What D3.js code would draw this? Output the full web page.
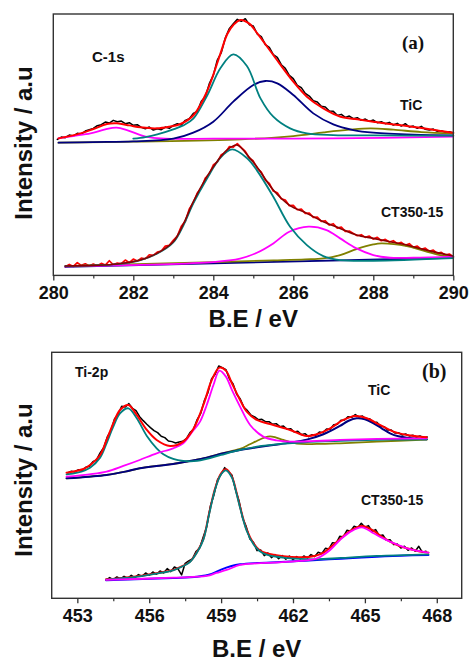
<!DOCTYPE html>
<html>
<head>
<meta charset="utf-8">
<script src="https://cdn.jsdelivr.net/npm/d3@7"></script>
<style>
  body { margin: 0; background: #fff; }
  svg { display: block; }
  .lbl { font-family: 'Liberation Sans', Arial, sans-serif; font-weight: bold; fill: #111; }
  .tag { font-family: 'Liberation Serif', 'Times New Roman', serif; font-weight: bold; fill: #111; }
</style>
</head>
<body>
<svg id="chart" width="469" height="663"></svg>
<script>
// ---- C-1s, TiC (raw counts on a 0.1 eV grid from 280.1 eV) ----
const c1sTicRawStart = 280.1
const c1sTicRaw = [
  408, 415, 413, 421, 418, 426, 424, 433, 437, 441,
  449, 452, 460, 457, 465, 461, 463, 455, 458, 450,
  452, 444, 440, 445, 436, 440, 437, 445, 441, 450,
  455, 451, 465, 470, 486, 492, 522, 536, 575, 600,
  646, 668, 712, 740, 755, 768, 762, 770, 752, 748,
  724, 716, 692, 684, 662, 654, 632, 621, 600, 590,
  570, 563, 546, 538, 524, 520, 507, 505, 493, 492,
  480, 483, 474, 478, 470, 473, 465, 469, 462, 466,
  458, 461, 455, 459, 451, 456, 448, 455, 445, 448,
  441, 447, 438, 436, 439, 432, 434, 429, 431, 427
]
const c1sTicFit = [[280.13, 411], [280.68, 426], [281.0, 439], [281.34, 454], [281.59, 456], [281.9, 450], [282.18, 444], [282.59, 441], [282.9, 446], [283.18, 454], [283.51, 481], [283.84, 551], [284.18, 666], [284.35, 724], [284.5, 751], [284.68, 766], [284.9, 755], [285.1, 726], [285.5, 661], [286.0, 581], [286.34, 536], [286.75, 501], [287.18, 476], [287.6, 468], [288.0, 461], [288.42, 454], [288.84, 448], [289.25, 441], [289.68, 433], [290.0, 428]]
const c1sTicTeal = [[282.0, 410], [282.3, 415], [282.6, 423], [283.0, 438], [283.25, 450], [283.5, 470], [283.84, 538], [284.18, 622], [284.5, 663], [284.84, 628], [285.18, 531], [285.5, 476], [285.92, 441], [286.34, 426], [287.0, 421], [288.0, 420], [290.0, 419]]
const c1sTicNavy = [[280.13, 398], [281.0, 400], [282.0, 402], [283.0, 410], [283.5, 428], [284.0, 461], [284.5, 521], [285.0, 571], [285.3, 583], [285.6, 576], [286.0, 541], [286.5, 486], [287.0, 453], [287.5, 436], [288.0, 428], [289.0, 422], [290.0, 420]]
const c1sTicMagenta = [[280.13, 411], [280.5, 418], [280.93, 426], [281.3, 438], [281.58, 443], [281.84, 436], [282.18, 421], [282.42, 414], [282.8, 410], [284.0, 410], [287.0, 411], [290.0, 416]]
const c1sTicOlive = [[280.13, 398], [282.0, 401], [284.7, 408], [286.0, 418], [286.76, 429], [287.4, 437], [287.93, 441], [288.5, 437], [289.2, 430], [290.0, 426]]

// ---- C-1s, CT350-15 (raw counts on a 0.1 eV grid from 280.3 eV) ----
const c1sCtRawStart = 280.3
const c1sCtRaw = [
  26, 33, 27, 38, 30, 35, 28, 34, 29, 36,
  31, 44, 32, 37, 35, 46, 38, 49, 43, 52,
  50, 62, 60, 70, 73, 88, 90, 105, 118, 147,
  162, 199, 218, 247, 262, 292, 304, 331, 340, 362,
  368, 386, 385, 395, 383, 372, 352, 343, 321, 310,
  286, 276, 253, 248, 230, 226, 209, 210, 197, 199,
  186, 187, 174, 175, 162, 164, 151, 155, 142, 145,
  132, 133, 126, 119, 122, 114, 118, 109, 114, 104,
  108, 100, 104, 95, 99, 90, 95, 84, 88, 78,
  82, 72, 76, 66, 69, 61, 64, 56
]
const c1sCtFit = [[280.3, 28], [281.0, 30], [281.6, 34], [282.18, 46], [282.59, 66], [283.0, 101], [283.26, 156], [283.5, 221], [283.84, 296], [284.09, 341], [284.34, 376], [284.59, 391], [284.92, 351], [285.09, 326], [285.5, 256], [285.9, 211], [286.34, 186], [286.75, 161], [287.17, 141], [287.58, 121], [288.0, 111], [288.42, 101], [288.84, 91], [289.25, 78], [289.99, 58]]
const c1sCtTeal = [[280.3, 28], [281.0, 30], [281.6, 34], [282.18, 46], [282.59, 65], [283.0, 99], [283.26, 152], [283.5, 216], [283.84, 290], [284.17, 352], [284.47, 378], [284.84, 352], [285.09, 315], [285.5, 236], [285.92, 146], [286.34, 91], [286.75, 58], [287.17, 46], [288.0, 44], [290.0, 52]]
const c1sCtMagenta = [[280.3, 27], [284.0, 40], [284.67, 50], [285.09, 68], [285.5, 96], [285.9, 131], [286.38, 146], [286.83, 136], [287.17, 111], [287.58, 81], [288.0, 61], [288.42, 53], [289.0, 53], [290.0, 56]]
const c1sCtOlive = [[280.3, 28], [284.0, 40], [285.5, 45], [286.3, 48], [286.75, 51], [287.17, 61], [287.58, 79], [288.0, 93], [288.2, 96], [288.84, 88], [289.25, 74], [289.67, 61], [290.0, 56]]
const c1sCtBase = [[280.3, 26], [290.0, 53]]

// ---- Ti-2p, TiC (raw counts on a 0.15 eV grid from 452.6 eV) ----
const ti2pTicRawStart = 452.6
const ti2pTicRaw = [
  376, 381, 379, 386, 383, 393, 396, 410, 415, 436,
  452, 484, 503, 538, 552, 576, 574, 584, 570, 563,
  545, 533, 522, 512, 503, 497, 486, 482, 472, 470,
  466, 469, 471, 479, 497, 507, 536, 555, 593, 617,
  658, 672, 697, 692, 686, 658, 643, 612, 598, 573,
  563, 549, 544, 536, 537, 530, 530, 522, 524, 515,
  517, 507, 509, 499, 501, 491, 494, 485, 491, 489,
  499, 497, 508, 507, 521, 522, 534, 535, 545, 543,
  551, 544, 547, 538, 539, 527, 528, 516, 515, 505,
  505, 496, 497, 490, 493, 487, 489, 484, 487, 482,
  484
]
const ti2pTicFit = [[452.55, 377], [453.25, 388], [453.53, 400], [453.95, 430], [454.22, 475], [454.5, 525], [454.78, 565], [455.13, 580], [455.48, 550], [455.9, 505], [456.31, 475], [456.87, 457], [457.42, 470], [457.84, 508], [458.26, 580], [458.61, 655], [458.93, 692], [459.2, 683], [459.45, 645], [459.79, 595], [460.07, 560], [460.49, 535], [461.18, 520], [461.88, 505], [462.57, 487], [462.99, 492], [463.55, 510], [464.1, 535], [464.59, 547], [465.08, 540], [465.63, 520], [466.19, 500], [466.75, 490], [467.58, 483]]
const ti2pTicTeal = [[452.55, 372], [453.0, 377], [453.53, 392], [453.95, 422], [454.22, 465], [454.5, 515], [454.78, 555], [455.13, 570], [455.48, 540], [455.9, 487], [456.31, 450], [456.59, 432], [457.0, 418], [457.42, 412], [458.0, 412], [458.4, 418], [459.0, 430], [459.79, 445], [460.5, 455], [461.5, 463], [462.5, 468], [464.0, 472], [466.0, 476], [467.58, 477]]
const ti2pTicNavy = [[452.55, 360], [453.5, 365], [454.22, 370], [455.0, 380], [455.6, 390], [456.3, 397], [457.0, 403], [457.7, 412], [458.4, 422], [459.1, 435], [459.79, 445], [460.5, 453], [461.18, 460], [461.88, 467], [462.57, 476], [463.27, 492], [463.96, 517], [464.3, 532], [464.66, 540], [465.0, 537], [465.36, 525], [465.7, 510], [466.05, 495], [466.4, 486], [466.75, 482], [467.58, 477]]
const ti2pTicMagenta = [[452.55, 365], [453.5, 372], [454.22, 380], [454.92, 397], [455.6, 415], [456.31, 435], [457.0, 450], [457.42, 465], [457.8, 500], [458.12, 530], [458.4, 580], [458.68, 640], [458.93, 683], [459.2, 665], [459.45, 625], [459.79, 575], [460.21, 520], [460.76, 485], [461.3, 474], [461.88, 470], [463.0, 472], [463.96, 475], [465.5, 478], [467.58, 480]]
const ti2pTicOlive = [[452.55, 360], [453.5, 365], [454.22, 370], [455.0, 380], [455.6, 390], [456.3, 397], [457.0, 403], [457.7, 412], [458.4, 422], [459.0, 434], [459.79, 448], [460.2, 462], [460.49, 472], [460.8, 482], [461.04, 486], [461.3, 482], [461.6, 475], [462.16, 464], [463.0, 463], [463.96, 465], [465.5, 470], [467.58, 476]]

// ---- Ti-2p, CT350-15 (raw counts on a 0.15 eV grid from 454.2 eV) ----
const ti2pCtRawStart = 454.2
const ti2pCtRaw = [
  55, 62, 56, 64, 58, 66, 60, 69, 62, 71,
  66, 76, 69, 79, 72, 82, 76, 89, 80, 94,
  88, 70, 105, 112, 118, 140, 150, 183, 215, 276,
  310, 356, 372, 392, 380, 370, 326, 292, 240, 215,
  178, 168, 143, 145, 128, 136, 122, 131, 119, 128,
  117, 127, 116, 125, 118, 127, 121, 131, 125, 138,
  134, 150, 148, 167, 165, 186, 184, 204, 201, 216,
  212, 225, 213, 218, 201, 206, 188, 190, 174, 176,
  161, 163, 151, 156, 144, 151, 141, 156, 138, 141
]
const ti2pCtFit = [[454.2, 57], [455.0, 62], [455.62, 67], [456.3, 75], [457.0, 85], [457.4, 97], [457.7, 110], [458.0, 140], [458.26, 178], [458.5, 255], [458.75, 330], [459.0, 375], [459.2, 387], [459.45, 365], [459.65, 315], [459.8, 272], [460.07, 205], [460.35, 165], [460.6, 145], [460.9, 135], [461.6, 126], [462.3, 123], [462.9, 127], [463.3, 138], [463.6, 155], [464.0, 180], [464.4, 203], [464.87, 217], [465.3, 205], [465.7, 185], [466.05, 170], [466.4, 158], [466.75, 150], [467.2, 142], [467.65, 137]]
const ti2pCtTeal = [[454.2, 56], [455.0, 61], [455.62, 66], [456.3, 74], [457.0, 84], [457.4, 96], [457.7, 109], [458.0, 138], [458.26, 176], [458.5, 252], [458.75, 327], [459.0, 372], [459.2, 384], [459.45, 362], [459.65, 312], [459.8, 269], [460.07, 202], [460.35, 162], [460.6, 142], [460.9, 131], [461.6, 122], [462.3, 118], [463.0, 117], [464.0, 121], [465.5, 127], [467.65, 132]]
const ti2pCtMagenta = [[454.2, 55], [457.0, 62], [458.4, 67], [458.8, 76], [459.23, 85], [459.79, 100], [460.5, 105], [461.18, 107], [462.3, 112], [463.0, 120], [463.55, 145], [463.96, 175], [464.4, 200], [464.87, 213], [465.36, 195], [465.7, 182], [466.05, 170], [466.4, 160], [466.75, 150], [467.2, 142], [467.65, 137]]
const ti2pCtBase = [[454.2, 54], [457.0, 61], [458.0, 65], [458.6, 73], [459.0, 86], [459.4, 96], [459.8, 102], [460.5, 106], [461.5, 109], [462.5, 113], [463.5, 117], [464.5, 121], [465.5, 125], [466.5, 128], [467.65, 130]]

// ---- axis ticks ----
const c1sMajor = [280, 282, 284, 286, 288, 290]
const c1sMinor = [281, 283, 285, 287, 289]
const ti2pMajor = [453, 456, 459, 462, 465, 468]
const ti2pMinor = [454.5, 457.5, 460.5, 463.5, 466.5]

const COLORS = {
  raw: '#000000',
  red: '#ff0000',
  darkRed: '#8b0000',
  teal: '#008080',
  navy: '#000080',
  magenta: '#ff00ff',
  olive: '#808000',
  blue: '#0000ff'
}

const sampled = (start, step, values) => values.map((v, i) => [+(start + i * step).toFixed(2), v])

const svg = d3.select('#chart')

function drawPanel (p) {
  const x = d3.scaleLinear().domain(p.xDomain).range([p.left, p.right])
  const y = d3.scaleLinear().domain(p.yDomain).range([p.bottom, p.top])
  const g = svg.append('g')

  const smooth = d3.line().x(d => x(d[0])).y(d => y(d[1])).curve(d3.curveCatmullRom.alpha(0.5))
  const jagged = d3.line().x(d => x(d[0])).y(d => y(d[1]))

  p.series.forEach(s => {
    g.append('path')
      .datum(s.data)
      .attr('d', s.raw ? jagged : smooth)
      .attr('fill', 'none')
      .attr('stroke', s.color)
      .attr('stroke-width', s.width)
      .attr('stroke-linejoin', 'round')
      .attr('stroke-linecap', 'round')
  })

  g.append('rect')
    .attr('x', p.left).attr('y', p.top)
    .attr('width', p.right - p.left).attr('height', p.bottom - p.top)
    .attr('fill', 'none').attr('stroke', '#333').attr('stroke-width', 1.4)

  const major = g.append('g')
    .attr('transform', `translate(0,${p.bottom})`)
    .call(d3.axisBottom(x).tickValues(p.major).tickSize(5).tickSizeOuter(0).tickPadding(6).tickFormat(d3.format('d')))
  major.select('.domain').remove()
  major.selectAll('line').attr('stroke', '#333').attr('stroke-width', 1.3)
  major.selectAll('text').attr('class', 'lbl').style('font-size', '18px').attr('fill', '#111')

  const minor = g.append('g')
    .attr('transform', `translate(0,${p.bottom})`)
    .call(d3.axisBottom(x).tickValues(p.minor).tickSize(3).tickSizeOuter(0).tickFormat(''))
  minor.select('.domain').remove()
  minor.selectAll('line').attr('stroke', '#333').attr('stroke-width', 1.2)

  g.append('text').attr('class', 'lbl')
    .attr('x', (p.left + p.right) / 2).attr('y', p.titleY)
    .attr('text-anchor', 'middle').style('font-size', '24px')
    .text('B.E / eV')

  g.append('text').attr('class', 'lbl')
    .attr('transform', `translate(32,${p.yTitleY}) rotate(-90)`)
    .attr('text-anchor', 'middle').style('font-size', '24px')
    .text('Intensity / a.u')

  p.notes.forEach(n => {
    g.append('text').attr('class', n.serif ? 'tag' : 'lbl')
      .attr('x', n.x).attr('y', n.y)
      .style('font-size', `${n.size}px`)
      .text(n.text)
  })
}

drawPanel({
  xDomain: [280, 290],
  yDomain: [0, 784],
  left: 53.3, right: 453.3, top: 14, bottom: 275.4,
  major: c1sMajor, minor: c1sMinor,
  titleY: 327, yTitleY: 143,
  series: [
    { data: sampled(c1sTicRawStart, 0.1, c1sTicRaw), color: COLORS.raw, width: 1.5, raw: true },
    { data: c1sTicOlive, color: COLORS.olive, width: 1.8 },
    { data: c1sTicMagenta, color: COLORS.magenta, width: 1.8 },
    { data: c1sTicNavy, color: COLORS.navy, width: 1.8 },
    { data: c1sTicTeal, color: COLORS.teal, width: 1.8 },
    { data: c1sTicFit, color: COLORS.red, width: 2 },
    { data: sampled(c1sCtRawStart, 0.1, c1sCtRaw), color: COLORS.red, width: 1.7, raw: true },
    { data: c1sCtBase, color: COLORS.navy, width: 1.8 },
    { data: c1sCtOlive, color: COLORS.olive, width: 1.8 },
    { data: c1sCtMagenta, color: COLORS.magenta, width: 1.8 },
    { data: c1sCtTeal, color: COLORS.teal, width: 1.8 },
    { data: c1sCtFit, color: COLORS.darkRed, width: 1.6 }
  ],
  notes: [
    { text: 'C-1s', x: 92, y: 61.5, size: 15 },
    { text: '(a)', x: 402, y: 49, size: 19, serif: true },
    { text: 'TiC', x: 400, y: 110, size: 14 },
    { text: 'CT350-15', x: 381, y: 217, size: 14 }
  ]
})

drawPanel({
  xDomain: [451.93, 469.04],
  yDomain: [0, 738],
  left: 51.7, right: 461.7, top: 352.3, bottom: 598.3,
  major: ti2pMajor, minor: ti2pMinor,
  titleY: 657, yTitleY: 480,
  series: [
    { data: sampled(ti2pTicRawStart, 0.15, ti2pTicRaw), color: COLORS.raw, width: 1.5, raw: true },
    { data: ti2pTicOlive, color: COLORS.olive, width: 1.8 },
    { data: ti2pTicNavy, color: COLORS.navy, width: 2 },
    { data: ti2pTicTeal, color: COLORS.teal, width: 1.8 },
    { data: ti2pTicMagenta, color: COLORS.magenta, width: 1.8 },
    { data: ti2pTicFit, color: COLORS.red, width: 2 },
    { data: sampled(ti2pCtRawStart, 0.15, ti2pCtRaw), color: COLORS.raw, width: 1.5, raw: true },
    { data: ti2pCtBase, color: COLORS.blue, width: 2 },
    { data: ti2pCtFit, color: COLORS.red, width: 2 },
    { data: ti2pCtTeal, color: COLORS.teal, width: 1.8 },
    { data: ti2pCtMagenta, color: COLORS.magenta, width: 1.8 }
  ],
  notes: [
    { text: 'Ti-2p', x: 75, y: 377, size: 14 },
    { text: '(b)', x: 422, y: 377.5, size: 20, serif: true },
    { text: 'TiC', x: 368, y: 395, size: 14 },
    { text: 'CT350-15', x: 361, y: 505, size: 14 }
  ]
})
</script>
</body>
</html>
